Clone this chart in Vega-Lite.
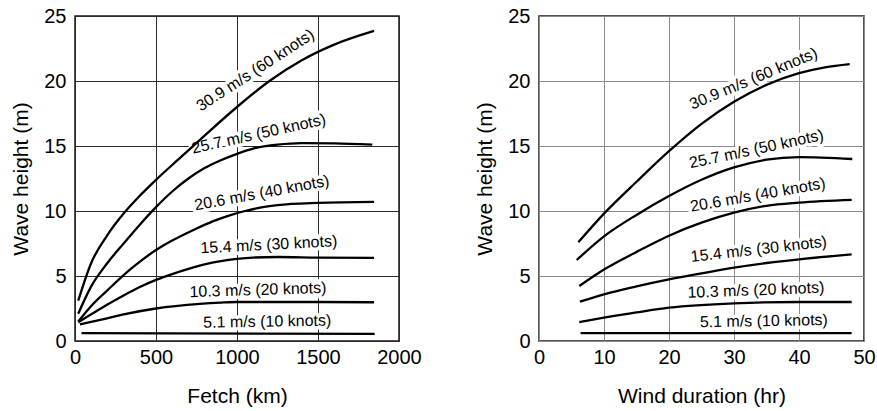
{
  "$schema": "https://vega.github.io/schema/vega-lite/v6.json",
  "background": "white",
  "padding": {"left": 10, "top": 5, "right": 8, "bottom": 5},
  "spacing": 52,
  "config": {
    "font": "Liberation Sans",
    "view": {"stroke": "#1a1a1a", "strokeWidth": 1.5},
    "axis": {
      "labelFont": "Liberation Sans",
      "titleFont": "Liberation Sans",
      "labelFontSize": 20,
      "titleFontSize": 21,
      "titleFontWeight": "normal",
      "labelColor": "black",
      "titleColor": "black",
      "ticks": false,
      "domain": false,
      "grid": true,
      "gridWidth": 1,
      "labelFlush": false,
      "labelOverlap": false,
      "format": "d"
    },
    "axisX": {"labelPadding": 6, "titlePadding": 18},
    "axisY": {"labelPadding": 9, "titlePadding": 12}
  },
  "datasets": {
    "fetchCurves": [
      {"wind": "60 knots", "fetch": 20, "height": 3.1},
      {"wind": "60 knots", "fetch": 100, "height": 6.0},
      {"wind": "60 knots", "fetch": 200, "height": 8.15},
      {"wind": "60 knots", "fetch": 300, "height": 9.8},
      {"wind": "60 knots", "fetch": 400, "height": 11.17},
      {"wind": "60 knots", "fetch": 500, "height": 12.4},
      {"wind": "60 knots", "fetch": 650, "height": 14.1},
      {"wind": "60 knots", "fetch": 800, "height": 15.8},
      {"wind": "60 knots", "fetch": 1000, "height": 18.0},
      {"wind": "60 knots", "fetch": 1200, "height": 20.0},
      {"wind": "60 knots", "fetch": 1400, "height": 21.6},
      {"wind": "60 knots", "fetch": 1600, "height": 22.8},
      {"wind": "60 knots", "fetch": 1846, "height": 23.85},
      {"wind": "50 knots", "fetch": 20, "height": 2.1},
      {"wind": "50 knots", "fetch": 100, "height": 4.2},
      {"wind": "50 knots", "fetch": 200, "height": 6.0},
      {"wind": "50 knots", "fetch": 300, "height": 7.5},
      {"wind": "50 knots", "fetch": 400, "height": 8.95},
      {"wind": "50 knots", "fetch": 500, "height": 10.3},
      {"wind": "50 knots", "fetch": 600, "height": 11.5},
      {"wind": "50 knots", "fetch": 700, "height": 12.5},
      {"wind": "50 knots", "fetch": 800, "height": 13.3},
      {"wind": "50 knots", "fetch": 900, "height": 13.9},
      {"wind": "50 knots", "fetch": 1000, "height": 14.4},
      {"wind": "50 knots", "fetch": 1100, "height": 14.8},
      {"wind": "50 knots", "fetch": 1250, "height": 15.1},
      {"wind": "50 knots", "fetch": 1400, "height": 15.22},
      {"wind": "50 knots", "fetch": 1600, "height": 15.2},
      {"wind": "50 knots", "fetch": 1835, "height": 15.1},
      {"wind": "40 knots", "fetch": 20, "height": 1.5},
      {"wind": "40 knots", "fetch": 100, "height": 2.7},
      {"wind": "40 knots", "fetch": 200, "height": 3.9},
      {"wind": "40 knots", "fetch": 350, "height": 5.6},
      {"wind": "40 knots", "fetch": 500, "height": 7.0},
      {"wind": "40 knots", "fetch": 750, "height": 8.65},
      {"wind": "40 knots", "fetch": 850, "height": 9.2},
      {"wind": "40 knots", "fetch": 950, "height": 9.65},
      {"wind": "40 knots", "fetch": 1050, "height": 10.0},
      {"wind": "40 knots", "fetch": 1150, "height": 10.27},
      {"wind": "40 knots", "fetch": 1250, "height": 10.45},
      {"wind": "40 knots", "fetch": 1500, "height": 10.62},
      {"wind": "40 knots", "fetch": 1846, "height": 10.7},
      {"wind": "30 knots", "fetch": 20, "height": 1.45},
      {"wind": "30 knots", "fetch": 100, "height": 2.05},
      {"wind": "30 knots", "fetch": 200, "height": 2.8},
      {"wind": "30 knots", "fetch": 300, "height": 3.5},
      {"wind": "30 knots", "fetch": 400, "height": 4.15},
      {"wind": "30 knots", "fetch": 500, "height": 4.7},
      {"wind": "30 knots", "fetch": 600, "height": 5.15},
      {"wind": "30 knots", "fetch": 700, "height": 5.55},
      {"wind": "30 knots", "fetch": 800, "height": 5.9},
      {"wind": "30 knots", "fetch": 900, "height": 6.15},
      {"wind": "30 knots", "fetch": 1000, "height": 6.32},
      {"wind": "30 knots", "fetch": 1100, "height": 6.42},
      {"wind": "30 knots", "fetch": 1250, "height": 6.46},
      {"wind": "30 knots", "fetch": 1500, "height": 6.42},
      {"wind": "30 knots", "fetch": 1846, "height": 6.4},
      {"wind": "20 knots", "fetch": 30, "height": 1.28},
      {"wind": "20 knots", "fetch": 170, "height": 1.67},
      {"wind": "20 knots", "fetch": 300, "height": 2.05},
      {"wind": "20 knots", "fetch": 500, "height": 2.5},
      {"wind": "20 knots", "fetch": 770, "height": 2.85},
      {"wind": "20 knots", "fetch": 900, "height": 2.95},
      {"wind": "20 knots", "fetch": 1000, "height": 3.0},
      {"wind": "20 knots", "fetch": 1500, "height": 3.0},
      {"wind": "20 knots", "fetch": 1846, "height": 2.98},
      {"wind": "10 knots", "fetch": 40, "height": 0.6},
      {"wind": "10 knots", "fetch": 1850, "height": 0.55}
    ],
    "fetchLabels": [
      {"wind": "60 knots", "label": "30.9 m/s (60 knots)", "fetch": 1130, "height": 20.5},
      {"wind": "50 knots", "label": "25.7 m/s (50 knots)", "fetch": 1141, "height": 15.55},
      {"wind": "40 knots", "label": "20.6 m/s (40 knots)", "fetch": 1159, "height": 11.0},
      {"wind": "30 knots", "label": "15.4 m/s (30 knots)", "fetch": 1198, "height": 7.02},
      {"wind": "20 knots", "label": "10.3 m/s (20 knots)", "fetch": 1130, "height": 3.54},
      {"wind": "10 knots", "label": "5.1 m/s (10 knots)", "fetch": 1187, "height": 1.1}
    ],
    "durationCurves": [
      {"wind": "60 knots", "duration": 6.05, "height": 7.6},
      {"wind": "60 knots", "duration": 10, "height": 9.8},
      {"wind": "60 knots", "duration": 15, "height": 12.25},
      {"wind": "60 knots", "duration": 20, "height": 14.6},
      {"wind": "60 knots", "duration": 25, "height": 16.7},
      {"wind": "60 knots", "duration": 30, "height": 18.4},
      {"wind": "60 knots", "duration": 35, "height": 19.7},
      {"wind": "60 knots", "duration": 40, "height": 20.6},
      {"wind": "60 knots", "duration": 44, "height": 21.05},
      {"wind": "60 knots", "duration": 47.8, "height": 21.3},
      {"wind": "50 knots", "duration": 5.8, "height": 6.23},
      {"wind": "50 knots", "duration": 10, "height": 8.05},
      {"wind": "50 knots", "duration": 15, "height": 9.7},
      {"wind": "50 knots", "duration": 20, "height": 11.15},
      {"wind": "50 knots", "duration": 25, "height": 12.4},
      {"wind": "50 knots", "duration": 30, "height": 13.35},
      {"wind": "50 knots", "duration": 35, "height": 13.95},
      {"wind": "50 knots", "duration": 40, "height": 14.15},
      {"wind": "50 knots", "duration": 48.2, "height": 14.0},
      {"wind": "40 knots", "duration": 6.2, "height": 4.23},
      {"wind": "40 knots", "duration": 10, "height": 5.5},
      {"wind": "40 knots", "duration": 15, "height": 6.85},
      {"wind": "40 knots", "duration": 20, "height": 8.1},
      {"wind": "40 knots", "duration": 25, "height": 9.1},
      {"wind": "40 knots", "duration": 30, "height": 9.87},
      {"wind": "40 knots", "duration": 35, "height": 10.4},
      {"wind": "40 knots", "duration": 40, "height": 10.64},
      {"wind": "40 knots", "duration": 48.1, "height": 10.85},
      {"wind": "30 knots", "duration": 6.3, "height": 3.02},
      {"wind": "30 knots", "duration": 10, "height": 3.59},
      {"wind": "30 knots", "duration": 15, "height": 4.2},
      {"wind": "30 knots", "duration": 20, "height": 4.74},
      {"wind": "30 knots", "duration": 25, "height": 5.2},
      {"wind": "30 knots", "duration": 30, "height": 5.64},
      {"wind": "30 knots", "duration": 35, "height": 6.0},
      {"wind": "30 knots", "duration": 40, "height": 6.28},
      {"wind": "30 knots", "duration": 48.1, "height": 6.67},
      {"wind": "20 knots", "duration": 6.2, "height": 1.46},
      {"wind": "20 knots", "duration": 10, "height": 1.8},
      {"wind": "20 knots", "duration": 15, "height": 2.2},
      {"wind": "20 knots", "duration": 20, "height": 2.56},
      {"wind": "20 knots", "duration": 30, "height": 2.9},
      {"wind": "20 knots", "duration": 40, "height": 3.0},
      {"wind": "20 knots", "duration": 48.1, "height": 3.0},
      {"wind": "10 knots", "duration": 6.4, "height": 0.6},
      {"wind": "10 knots", "duration": 48.1, "height": 0.6}
    ],
    "durationLabels": [
      {"wind": "60 knots", "label": "30.9 m/s (60 knots)", "duration": 33.3, "height": 19.82},
      {"wind": "50 knots", "label": "25.7 m/s (50 knots)", "duration": 33.6, "height": 14.38},
      {"wind": "40 knots", "label": "20.6 m/s (40 knots)", "duration": 33.8, "height": 10.85},
      {"wind": "30 knots", "label": "15.4 m/s (30 knots)", "duration": 33.9, "height": 6.67},
      {"wind": "20 knots", "label": "10.3 m/s (20 knots)", "duration": 33.4, "height": 3.52},
      {"wind": "10 knots", "label": "5.1 m/s (10 knots)", "duration": 34.6, "height": 1.14}
    ]
  },
  "hconcat": [
    {
      "width": 324,
      "height": 325,
      "encoding": {
        "x": {
          "field": "fetch",
          "type": "quantitative",
          "title": "Fetch (km)",
          "scale": {"domain": [0, 2000], "nice": false, "zero": false},
          "axis": {"values": [0, 500, 1000, 1500, 2000], "gridColor": "#2a2a2a"}
        },
        "y": {
          "field": "height",
          "type": "quantitative",
          "title": "Wave height (m)",
          "scale": {"domain": [0, 25], "nice": false},
          "axis": {"values": [0, 5, 10, 15, 20, 25], "gridColor": "#2a2a2a"}
        }
      },
      "layer": [
        {
          "data": {"name": "fetchLabels"},
          "mark": {"type": "text", "font": "Liberation Sans", "fontSize": 16, "fill": "white", "stroke": "white", "strokeWidth": 7, "strokeJoin": "round", "align": "center", "baseline": "alphabetic"},
          "encoding": {
            "text": {"field": "label"},
            "angle": {
              "condition": [
                {"test": "datum.wind == '60 knots'", "value": -33},
                {"test": "datum.wind == '50 knots'", "value": -12.5},
                {"test": "datum.wind == '40 knots'", "value": -10.5},
                {"test": "datum.wind == '30 knots'", "value": -3},
                {"test": "datum.wind == '20 knots'", "value": -1.8}
              ],
              "value": -1
            }
          }
        },
        {
          "data": {"name": "fetchCurves"},
          "mark": {"type": "line", "color": "black", "strokeWidth": 2.3, "interpolate": "monotone"},
          "encoding": {"detail": {"field": "wind"}}
        },
        {
          "data": {"name": "fetchLabels"},
          "mark": {"type": "text", "font": "Liberation Sans", "fontSize": 16, "color": "black", "align": "center", "baseline": "alphabetic"},
          "encoding": {
            "text": {"field": "label"},
            "angle": {
              "condition": [
                {"test": "datum.wind == '60 knots'", "value": -33},
                {"test": "datum.wind == '50 knots'", "value": -12.5},
                {"test": "datum.wind == '40 knots'", "value": -10.5},
                {"test": "datum.wind == '30 knots'", "value": -3},
                {"test": "datum.wind == '20 knots'", "value": -1.8}
              ],
              "value": -1
            }
          }
        }
      ]
    },
    {
      "width": 325,
      "height": 325,
      "encoding": {
        "x": {
          "field": "duration",
          "type": "quantitative",
          "title": "Wind duration (hr)",
          "scale": {"domain": [0, 50], "nice": false},
          "axis": {"values": [0, 10, 20, 30, 40, 50], "gridColor": "#8a8a8a"}
        },
        "y": {
          "field": "height",
          "type": "quantitative",
          "title": "Wave height (m)",
          "scale": {"domain": [0, 25], "nice": false},
          "axis": {"values": [0, 5, 10, 15, 20, 25], "gridColor": "#8a8a8a"}
        }
      },
      "layer": [
        {
          "data": {"name": "durationLabels"},
          "mark": {"type": "text", "font": "Liberation Sans", "fontSize": 16, "fill": "white", "stroke": "white", "strokeWidth": 7, "strokeJoin": "round", "align": "center", "baseline": "alphabetic"},
          "encoding": {
            "text": {"field": "label"},
            "angle": {
              "condition": [
                {"test": "datum.wind == '60 knots'", "value": -22.6},
                {"test": "datum.wind == '50 knots'", "value": -12},
                {"test": "datum.wind == '40 knots'", "value": -10},
                {"test": "datum.wind == '30 knots'", "value": -6.5},
                {"test": "datum.wind == '20 knots'", "value": -2.2}
              ],
              "value": -1
            }
          }
        },
        {
          "data": {"name": "durationCurves"},
          "mark": {"type": "line", "color": "black", "strokeWidth": 2.3, "interpolate": "monotone"},
          "encoding": {"detail": {"field": "wind"}}
        },
        {
          "data": {"name": "durationLabels"},
          "mark": {"type": "text", "font": "Liberation Sans", "fontSize": 16, "color": "black", "align": "center", "baseline": "alphabetic"},
          "encoding": {
            "text": {"field": "label"},
            "angle": {
              "condition": [
                {"test": "datum.wind == '60 knots'", "value": -22.6},
                {"test": "datum.wind == '50 knots'", "value": -12},
                {"test": "datum.wind == '40 knots'", "value": -10},
                {"test": "datum.wind == '30 knots'", "value": -6.5},
                {"test": "datum.wind == '20 knots'", "value": -2.2}
              ],
              "value": -1
            }
          }
        }
      ]
    }
  ]
}
